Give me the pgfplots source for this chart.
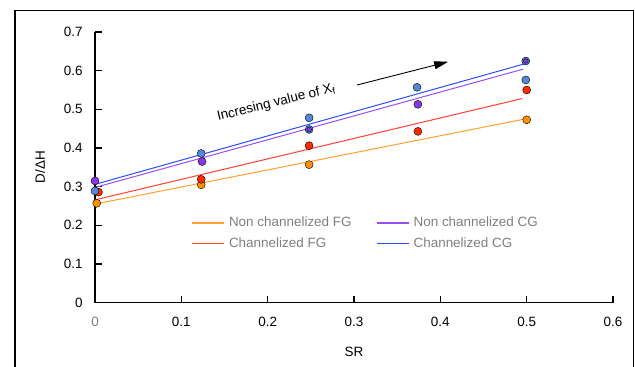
\documentclass[border=0pt]{standalone}
\usepackage{fontspec}
\setmainfont{Liberation Sans}
\newfontfamily\legfont[Color=7F7F7F]{Liberation Sans}
\usepackage{pgfplots}
\pgfplotsset{compat=1.18}
\usetikzlibrary{arrows.meta}
\definecolor{cOrange}{HTML}{FF9100}
\definecolor{cRed}{HTML}{FF2A00}
\definecolor{cPurple}{HTML}{8A36E6}
\definecolor{cBlueM}{HTML}{5588D6}
\definecolor{cBlueL}{HTML}{2A4FF5}
\definecolor{cRedL}{HTML}{FF4030}
\definecolor{cPurpleL}{HTML}{9A4EF0}
\definecolor{cOrangeL}{HTML}{FFA030}
\definecolor{lgray}{HTML}{7F7F7F}
\newcommand{\fs}{\fontsize{13.5}{15}\selectfont}
\newcommand{\lent}[1]{\makebox[130bp][l]{#1}}
\pgfplotsset{
  common/.style={
    at={(95bp,63.3bp)}, anchor=south west,
    scale only axis, width=518bp, height=270.7bp,
    xmin=0, xmax=0.6, ymin=0, ymax=0.7,
    legend columns=2,
    legend image code/.code={\draw[##1, line width=1.6bp] (0,0) -- (32bp,0);},
    clip=false,
  },
  legsty/.style={draw=none, fill=none, anchor=north west,
    font=\fs\legfont,
    /tikz/every odd column/.append style={column sep=2bp},
    /tikz/every even column/.append style={column sep=15bp}},
}
\begin{document}
\begin{tikzpicture}[x=1bp,y=1bp]
\useasboundingbox (0,0) rectangle (635,366);
\draw[line width=1.4bp] (15,-10) -- (15,355.3) -- (633.5,355.3) -- (633.5,-10);
\begin{axis}[
  common,
  axis x line*=bottom, axis y line*=left,
  axis line style={line width=1.3bp},
  every tick/.style={line width=1.3bp, black},
  tick align=inside, major tick length=7bp,
  xtick={0.1,0.2,0.3,0.4,0.5,0.6},
  extra x ticks={0},
  extra x tick style={major tick length=0pt, xticklabel style={font=\fs\legfont}},
  ytick={0,0.1,0.2,0.3,0.4,0.5,0.6,0.7},
  /pgf/number format/assume math mode=true,
  /pgf/number format/fixed,
  /pgf/number format/precision=1,
  tick label style={font=\fs},
  xticklabel style={yshift=-11bp},
  yticklabel style={xshift=-9bp},
  xlabel={SR}, ylabel={D/ΔH},
  label style={font=\fs},
  x label style={at={(axis description cs:0.5,0)}, yshift=-49bp, anchor=center},
  y label style={at={(axis description cs:0,0.5)}, yshift=55bp, anchor=center},
  legend style={legsty, at={(axis cs:0.108,0.232)}},
]
\addplot[cOrangeL, line width=1bp] coordinates {(0,0.255) (0.5,0.476)};
\addlegendentry{\lent{Non channelized FG}}
\addplot[cPurpleL, line width=1bp] coordinates {(0,0.298) (0.496,0.604)};
\addlegendentry{\lent{Non channelized CG}}
\end{axis}
\begin{axis}[
  common, hide axis,
  legend style={legsty, at={(axis cs:0.108,0.178)}},
]
\addplot[cRedL, line width=1bp] coordinates {(0,0.266) (0.495,0.528)};
\addlegendentry{\lent{Channelized FG}}
\addplot[cBlueL, line width=1bp] coordinates {(0,0.306) (0.498,0.618)};
\addlegendentry{\lent{Channelized CG}}
% markers
\addplot[only marks, mark=*, mark size=4bp, mark options={fill=cOrange, draw=none}, forget plot]
  coordinates {(0.002,0.257) (0.123,0.305) (0.248,0.357) (0.5,0.473)};
\addplot[only marks, mark=*, mark size=4bp, mark options={fill=cRed, draw=none}, forget plot]
  coordinates {(0.004,0.286) (0.123,0.319) (0.248,0.406) (0.374,0.443) (0.5,0.550)};
\addplot[only marks, mark=*, mark size=4bp, mark options={fill=cBlueM, draw=none}, forget plot]
  coordinates {(0,0.289) (0.123,0.386) (0.248,0.478) (0.248,0.448) (0.373,0.557) (0.499,0.576) (0.499,0.625)};
\addplot[only marks, mark=*, mark size=4bp, mark options={fill=cPurple, draw=none}, forget plot]
  coordinates {(0,0.315) (0.124,0.365) (0.374,0.513)};
\addplot[only marks, mark=*, mark size=2.4bp, mark options={fill=cPurple, draw=none}, forget plot]
  coordinates {(0.248,0.448) (0.499,0.625)};
% annotation
\node[rotate=14, font=\fs] at (axis cs:0.210,0.517) {Incresing value of X\textsubscript{f}};
\draw[-{Triangle[length=14bp,width=8bp]}, line width=0.9bp] (axis cs:0.3036,0.563) -- (axis cs:0.409,0.623);
\end{axis}
\end{tikzpicture}
\end{document}
